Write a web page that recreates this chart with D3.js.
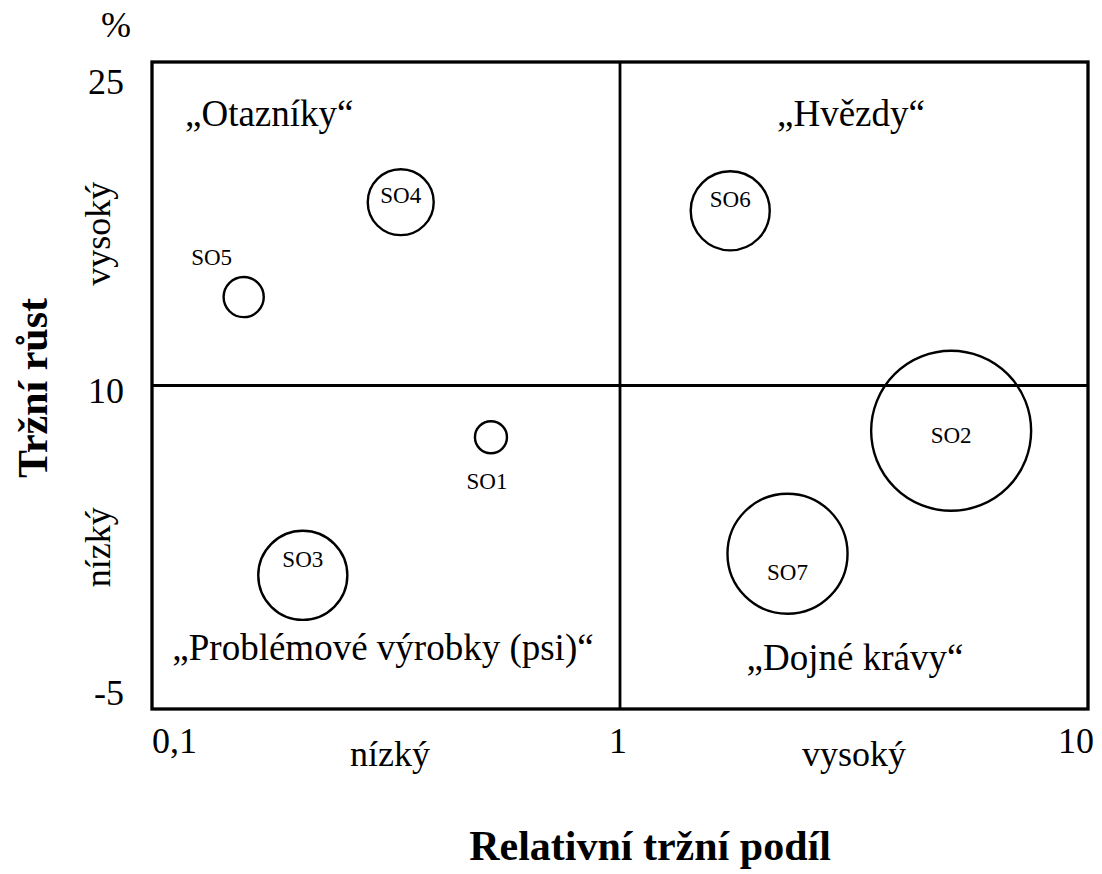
<!DOCTYPE html>
<html>
<head>
<meta charset="utf-8">
<script src="https://cdn.jsdelivr.net/npm/d3@7"></script>
<style>
  body { margin: 0; background: #fff; }
</style>
</head>
<body>
<svg class="bcg"></svg>
<script>
// data
var units = ["SO1", "SO2", "SO3", "SO4", "SO5", "SO6", "SO7"];
var marketShare = [0.53, 5.10, 0.21, 0.34, 0.157, 1.72, 2.28];   // relative market share
var marketGrowth = [7.6, 7.9, 1.2, 18.5, 14.1, 18.1, 2.2];        // %
var sales = [4, 100, 31, 17, 6.3, 24.4, 56.3];                     // bubble size

var xTicks = [0.1, 1, 10];
var xTickLabels = ["0,1", "1", "10"];
var yTicks = [-5, 10, 25];
var yTickLabels = ["-5", "10", "25"];

var quadrantNames = ["„Otazníky“", "„Hvězdy“", "„Problémové výrobky (psi)“", "„Dojné krávy“"];
var levelNames = ["nízký", "vysoký"];

var width = 1102, height = 874;
var margin = {top: 62, right: 14, bottom: 165, left: 152};
var font = "'Liberation Serif', 'DejaVu Serif', serif";

var svg = d3.select(".bcg")
  .attr("width", width)
  .attr("height", height)
  .attr("font-family", font);

var x = d3.scaleLog()
  .domain([0.1, 10])
  .range([margin.left, width - margin.right]);

var y = d3.scaleLinear()
  .domain([-5, 25])
  .range([height - margin.bottom, margin.top]);

var r = d3.scaleSqrt()
  .domain([0, 100])
  .range([0, 80]);

// frame
svg.append("rect")
  .attr("x", x(0.1))
  .attr("y", y(25))
  .attr("width", x(10) - x(0.1))
  .attr("height", y(-5) - y(25))
  .attr("fill", "none")
  .attr("stroke", "#000")
  .attr("stroke-width", 3.3);

// quadrant dividers
svg.append("line")
  .attr("x1", x(1)).attr("x2", x(1))
  .attr("y1", y(25)).attr("y2", y(-5))
  .attr("stroke", "#000").attr("stroke-width", 2.8);
svg.append("line")
  .attr("x1", x(0.1)).attr("x2", x(10))
  .attr("y1", y(10)).attr("y2", y(10))
  .attr("stroke", "#000").attr("stroke-width", 2.8);

// y tick labels (nudged like in the original)
var yNudge = {"-5": -4, "10": 17, "25": 32};
svg.selectAll(".ytick")
  .data(yTicks)
  .enter()
  .append("text")
  .attr("class", "ytick")
  .attr("x", x(0.1) - 28)
  .attr("y", function(d){ return y(d) + yNudge[d]; })
  .attr("text-anchor", "end")
  .attr("font-size", 36)
  .text(function(d, i){ return yTickLabels[i]; });

svg.append("text")
  .attr("x", 116)
  .attr("y", 37)
  .attr("text-anchor", "middle")
  .attr("font-size", 36)
  .text("%");

// x tick labels
var xAnchor = ["start", "middle", "end"];
var xNudge = [0, -2, 6];
svg.selectAll(".xtick")
  .data(xTicks)
  .enter()
  .append("text")
  .attr("class", "xtick")
  .attr("x", function(d, i){ return x(d) + xNudge[i]; })
  .attr("y", y(-5) + 44)
  .attr("text-anchor", function(d, i){ return xAnchor[i]; })
  .attr("font-size", 36)
  .text(function(d, i){ return xTickLabels[i]; });

// low / high along x
svg.append("text")
  .attr("x", (x(0.1) + x(1)) / 2 + 4)
  .attr("y", y(-5) + 57)
  .attr("text-anchor", "middle")
  .attr("font-size", 36)
  .text(levelNames[0]);
svg.append("text")
  .attr("x", (x(1) + x(10)) / 2)
  .attr("y", y(-5) + 57)
  .attr("text-anchor", "middle")
  .attr("font-size", 36)
  .text(levelNames[1]);

// low / high along y
svg.append("text")
  .attr("transform", "translate(110," + ((y(10) + y(-5)) / 2) + ") rotate(-90)")
  .attr("text-anchor", "middle")
  .attr("font-size", 36)
  .text(levelNames[0]);
svg.append("text")
  .attr("transform", "translate(110," + ((y(25) + y(10)) / 2 + 10) + ") rotate(-90)")
  .attr("text-anchor", "middle")
  .attr("font-size", 36)
  .text(levelNames[1]);

// axis titles
svg.append("text")
  .attr("x", 650)
  .attr("y", 860)
  .attr("text-anchor", "middle")
  .attr("font-size", 42)
  .attr("font-weight", "bold")
  .text("Relativní tržní podíl");

svg.append("text")
  .attr("transform", "translate(47," + 388 + ") rotate(-90)")
  .attr("text-anchor", "middle")
  .attr("font-size", 42)
  .attr("font-weight", "bold")
  .text("Tržní růst");

// quadrant names
svg.append("text")
  .attr("x", x(0.1) + 33)
  .attr("y", y(25) + 64)
  .attr("font-size", 37)
  .text(quadrantNames[0]);
svg.append("text")
  .attr("x", (x(1) + x(10)) / 2 - 3)
  .attr("y", y(25) + 64)
  .attr("text-anchor", "middle")
  .attr("font-size", 37)
  .text(quadrantNames[1]);
svg.append("text")
  .attr("x", (x(0.1) + x(1)) / 2 - 3)
  .attr("y", y(-5) - 49)
  .attr("text-anchor", "middle")
  .attr("font-size", 37)
  .text(quadrantNames[2]);
svg.append("text")
  .attr("x", (x(1) + x(10)) / 2 + 1)
  .attr("y", y(-5) - 39)
  .attr("text-anchor", "middle")
  .attr("font-size", 37)
  .text(quadrantNames[3]);

// bubbles
var data = units.map(function(name, i){
  return {name: name, share: marketShare[i], growth: marketGrowth[i], sales: sales[i]};
});

svg.selectAll(".bubble")
  .data(data)
  .enter()
  .append("circle")
  .attr("class", "bubble")
  .attr("cx", function(d){ return x(d.share); })
  .attr("cy", function(d){ return y(d.growth); })
  .attr("r", function(d){ return r(d.sales); })
  .attr("fill", "none")
  .attr("stroke", "#000")
  .attr("stroke-width", 2.4);

// label offsets from the bubble centre
var labelShift = {
  SO1: [-4, 52], SO2: [0, 12], SO3: [0, -8], SO4: [0, 1],
  SO5: [-32, -32], SO6: [0, -4], SO7: [0, 26]
};
svg.selectAll(".bubble-label")
  .data(data)
  .enter()
  .append("text")
  .attr("class", "bubble-label")
  .attr("x", function(d){ return x(d.share) + labelShift[d.name][0]; })
  .attr("y", function(d){ return y(d.growth) + labelShift[d.name][1]; })
  .attr("text-anchor", "middle")
  .attr("font-size", 23)
  .text(function(d){ return d.name; });
</script>
</body>
</html>
